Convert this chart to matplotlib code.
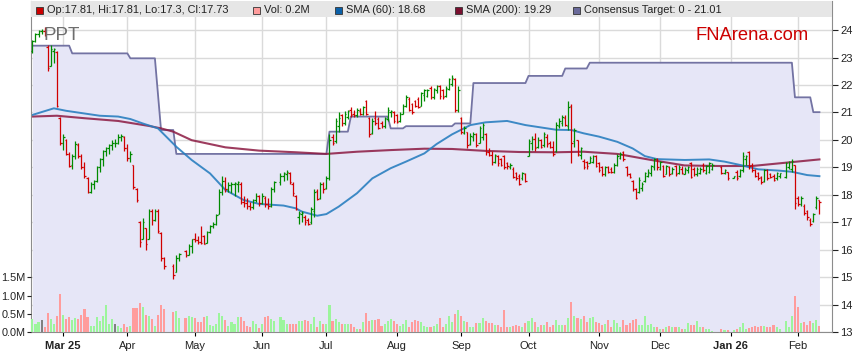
import numpy as np
import pandas as pd
import matplotlib
matplotlib.use('Agg')
import matplotlib.pyplot as plt
from matplotlib.collections import LineCollection
from matplotlib.patches import Rectangle

plt.rcParams['font.family'] = ['Liberation Sans', 'DejaVu Sans']

# weekday calendar, exchange holidays are left empty (None)
dates = pd.bdate_range('2025-02-17', '2026-02-11')
N = None

opens = [
    23.25, 23.60, 23.85, 23.95, 23.95, 23.40, 22.70, 23.25, 23.20, 20.80,
    19.90, 20.00, 19.50, 19.10, 19.40, 19.80, 19.40, 19.00, 18.60, 18.10,
    18.40, 18.50, 19.00, 19.30, 19.60, 19.70, 19.80, 19.90, 19.90, 20.10,
    20.10, 19.70, 19.35, 19.10, 18.20, 17.00, 16.40, 16.80, 16.40, 17.40,
    17.10, 17.40, 16.60, 15.70, N, N, 15.40, 15.20, 15.70, N,
    15.95, 15.80, 16.15, 16.40, 16.35, 16.30, 16.50, 16.25, 16.65, 16.85,
    16.95, 17.30, 18.10, 18.50, 18.20, 18.35, 18.40, 18.40, 18.40, 17.75,
    17.70, 17.60, 17.55, 17.80, 17.95, 17.70, 17.90, 17.65, 17.60, 18.20,
    N, 18.45, 18.70, 18.75, 18.80, 18.40, 17.95, 17.20, 17.30, 17.20,
    17.10, 17.00, 17.40, 18.15, 17.90, 18.40, 18.25, 18.60, 20.10, 19.95,
    20.50, 20.90, 20.60, 20.85, 21.10, 20.95, 20.90, 21.05, 20.95, 21.40,
    20.80, 20.25, 20.80, 20.75, 20.60, 20.50, 20.75, 21.00, 21.00, 20.90,
    20.70, 20.95, 21.25, 21.50, 21.30, 21.40, 21.50, 21.25, 21.65, 21.60,
    21.90, 21.55, 21.80, 21.95, 21.80, 21.60, 21.85, 22.05, 22.20, 21.10,
    20.80, 20.25, 20.30, 19.85, 20.10, 20.20, 19.90, 20.10, 20.20, 19.55,
    19.45, 19.20, 19.40, 19.30, 19.40, 19.15, 19.00, 18.95, 18.80, 18.70,
    18.60, 18.75, 19.40, 19.90, 20.05, 19.75, 20.00, 19.80, 20.10, 19.90,
    19.75, 19.60, 20.50, 20.60, 20.80, 20.50, 21.25, 19.95, 20.00, 19.45,
    19.25, 19.20, 19.15, 19.20, 19.40, 19.15, 19.00, 18.75, 19.00, 18.95,
    18.85, 19.10, 19.35, 19.55, 19.00, 18.75, 18.50, 18.20, 18.10, 18.25,
    18.50, 18.70, 18.80, 19.00, 19.30, 18.95, 19.05, 18.75, 19.00, 18.80,
    19.05, 18.80, 18.95, 18.75, 18.90, 19.15, 18.95, 18.75, 18.80, 19.10,
    18.80, 18.85, 18.95, N, N, 19.00, 18.80, 18.85, N, 18.62,
    18.85, 18.70, 18.90, 19.30, 19.55, 19.10, 18.90, 18.80, 18.65, 18.50,
    18.90, 18.75, 18.70, 18.60, 18.70, N, 18.65, 19.00, 18.95, 19.10,
    17.90, 17.65, 17.60, 17.40, 17.10, 17.05, 17.55, 17.81]

highs = [
    23.65, 23.90, 24.00, 24.05, 24.10, 23.45, 23.45, 23.35, 23.25, 20.85,
    20.20, 20.05, 19.55, 19.50, 19.95, 19.90, 19.50, 19.20, 18.65, 18.45,
    18.55, 19.05, 19.35, 19.65, 19.75, 19.85, 20.00, 20.05, 20.20, 20.20,
    20.15, 19.85, 19.60, 19.10, 18.25, 17.05, 17.15, 16.80, 17.50, 17.50,
    17.50, 17.50, 16.65, 15.75, N, N, 15.50, 15.80, 15.90, N,
    16.00, 16.20, 16.40, 16.60, 16.50, 16.85, 16.55, 16.70, 16.90, 17.00,
    17.30, 18.20, 18.70, 18.65, 18.45, 18.45, 18.45, 18.50, 18.45, 17.95,
    17.90, 17.75, 17.85, 18.05, 18.00, 18.05, 17.95, 17.90, 18.30, 18.50,
    N, 18.80, 18.85, 18.90, 18.85, 18.45, 18.00, 17.40, 17.40, 17.25,
    17.15, 17.55, 18.20, 18.20, 18.45, 18.45, 18.70, 20.20, 20.20, 20.80,
    21.00, 20.95, 21.05, 21.10, 21.20, 21.10, 21.15, 21.15, 21.25, 21.45,
    20.85, 20.80, 21.05, 20.85, 20.70, 20.85, 21.20, 21.10, 21.05, 20.95,
    21.00, 21.30, 21.65, 21.55, 21.35, 21.45, 21.55, 21.75, 21.85, 21.85,
    21.95, 21.90, 22.00, 22.00, 21.85, 21.95, 22.25, 22.35, 22.25, 21.95,
    20.85, 20.50, 20.30, 20.25, 20.30, 20.25, 20.50, 20.60, 20.25, 19.70,
    19.60, 19.50, 19.45, 19.35, 19.45, 19.20, 19.15, 19.00, 18.85, 18.75,
    18.85, 18.80, 20.05, 20.15, 20.25, 20.10, 20.05, 20.30, 20.20, 19.95,
    19.95, 20.65, 20.80, 20.90, 20.90, 21.40, 21.30, 20.45, 20.00, 19.75,
    19.30, 19.25, 19.40, 19.45, 19.45, 19.20, 19.05, 19.05, 19.05, 19.00,
    19.15, 19.50, 19.55, 19.60, 19.05, 18.80, 18.55, 18.25, 18.65, 18.45,
    18.85, 18.95, 19.10, 19.35, 19.35, 19.25, 19.10, 19.10, 19.05, 19.00,
    19.10, 19.10, 19.05, 19.00, 19.05, 19.20, 19.00, 19.00, 19.00, 19.15,
    19.10, 19.20, 19.15, N, N, 19.05, 18.95, 18.85, N, 18.70,
    18.90, 18.95, 19.55, 19.45, 19.60, 19.15, 18.95, 18.85, 18.70, 18.95,
    18.95, 18.80, 18.75, 18.85, 18.80, N, 19.20, 19.25, 19.30, 19.10,
    17.95, 17.95, 17.65, 17.45, 17.15, 17.35, 17.95, 17.81]

lows = [
    23.15, 23.55, 23.75, 23.85, 23.80, 22.50, 22.70, 22.80, 21.20, 19.80,
    19.65, 19.45, 19.00, 18.95, 19.30, 19.35, 18.95, 18.60, 18.05, 18.05,
    18.20, 18.45, 18.85, 19.05, 19.40, 19.50, 19.65, 19.75, 19.85, 19.95,
    19.60, 19.25, 19.20, 18.20, 17.75, 16.10, 16.40, 16.00, 16.40, 16.90,
    17.05, 16.60, 15.60, 15.30, N, N, 14.95, 15.20, 15.60, N,
    15.75, 15.80, 15.90, 16.30, 16.20, 16.20, 16.20, 16.25, 16.60, 16.80,
    16.90, 17.30, 18.00, 18.10, 18.10, 18.05, 17.95, 18.10, 17.65, 17.55,
    17.50, 17.45, 17.50, 17.75, 17.60, 17.65, 17.55, 17.50, 17.55, 18.10,
    N, 18.35, 18.50, 18.55, 18.40, 17.95, 17.45, 16.95, 17.00, 16.90,
    16.90, 16.95, 17.20, 17.80, 17.85, 18.05, 18.20, 18.55, 19.80, 19.90,
    20.30, 20.50, 20.55, 20.75, 20.85, 20.85, 20.85, 20.90, 20.90, 20.90,
    20.10, 20.20, 20.55, 20.40, 20.45, 20.45, 20.70, 20.85, 20.60, 20.60,
    20.65, 20.95, 21.20, 21.05, 20.95, 21.20, 21.15, 21.25, 21.40, 21.55,
    21.50, 21.50, 21.70, 21.50, 21.50, 21.55, 21.80, 21.95, 21.00, 21.00,
    20.20, 20.20, 19.70, 19.80, 19.95, 19.75, 19.90, 20.00, 19.45, 19.40,
    19.10, 19.15, 19.05, 19.05, 18.95, 18.95, 18.95, 18.60, 18.55, 18.35,
    18.55, 18.45, 19.40, 19.65, 19.60, 19.70, 19.70, 19.75, 19.75, 19.70,
    19.40, 19.55, 20.45, 20.50, 20.50, 20.35, 19.15, 19.75, 19.40, 19.30,
    18.95, 18.95, 19.15, 19.15, 19.00, 18.85, 18.70, 18.70, 18.80, 18.80,
    18.80, 19.05, 19.30, 19.25, 18.70, 18.60, 18.15, 17.85, 18.05, 18.15,
    18.45, 18.65, 18.70, 18.90, 18.90, 18.90, 18.65, 18.75, 18.70, 18.75,
    18.70, 18.75, 18.75, 18.75, 18.80, 18.60, 18.70, 18.70, 18.75, 18.85,
    18.75, 18.80, 18.90, N, N, 18.75, 18.75, 18.55, N, 18.60,
    18.55, 18.65, 18.85, 19.10, 18.95, 18.85, 18.65, 18.55, 18.40, 18.45,
    18.55, 18.60, 18.50, 18.55, 18.60, N, 18.60, 18.95, 18.85, 17.50,
    17.60, 17.60, 17.25, 17.10, 16.85, 17.00, 17.50, 17.30]

closes = [
    23.60, 23.85, 23.95, 23.95, 23.85, 22.60, 23.30, 23.32, 21.25, 19.90,
    20.10, 19.50, 19.05, 19.40, 19.85, 19.40, 19.00, 18.70, 18.10, 18.40,
    18.50, 19.00, 19.30, 19.60, 19.70, 19.80, 19.90, 19.90, 20.10, 20.15,
    19.70, 19.35, 19.50, 18.30, 17.80, 16.30, 17.00, 16.20, 17.40, 17.10,
    17.40, 16.70, 15.70, 15.40, N, N, 15.10, 15.70, 15.85, N,
    15.80, 16.15, 16.40, 16.35, 16.30, 16.25, 16.22, 16.65, 16.85, 16.95,
    17.25, 18.10, 18.50, 18.20, 18.35, 18.40, 18.42, 18.45, 17.75, 17.70,
    17.60, 17.55, 17.80, 17.95, 17.70, 17.95, 17.65, 17.60, 18.20, 18.45,
    N, 18.70, 18.80, 18.82, 18.45, 18.05, 17.50, 17.35, 17.35, 17.00,
    16.95, 17.50, 18.10, 17.85, 18.40, 18.20, 18.60, 20.00, 19.90, 20.70,
    20.80, 20.60, 20.95, 21.05, 20.90, 20.90, 21.10, 20.95, 21.20, 20.95,
    20.20, 20.70, 20.60, 20.45, 20.50, 20.80, 21.10, 21.05, 20.70, 20.65,
    20.95, 21.25, 21.55, 21.10, 21.00, 21.25, 21.20, 21.70, 21.80, 21.80,
    21.55, 21.85, 21.95, 21.60, 21.55, 21.90, 22.20, 22.25, 21.10, 21.80,
    20.30, 20.45, 19.80, 20.15, 20.20, 19.80, 20.45, 20.55, 19.55, 19.45,
    19.20, 19.45, 19.15, 19.10, 19.00, 19.05, 19.10, 18.65, 18.60, 18.40,
    18.80, 18.50, 19.95, 20.05, 19.70, 20.00, 19.75, 20.20, 19.85, 19.75,
    19.50, 20.55, 20.70, 20.85, 20.55, 21.20, 19.90, 20.35, 19.50, 19.70,
    19.00, 19.05, 19.35, 19.40, 19.05, 18.90, 18.75, 19.00, 18.85, 18.85,
    19.10, 19.40, 19.50, 19.30, 18.75, 18.65, 18.20, 17.90, 18.55, 18.40,
    18.80, 18.85, 19.05, 19.30, 19.00, 19.20, 18.70, 19.05, 18.75, 18.95,
    18.75, 19.00, 18.80, 18.95, 19.00, 18.65, 18.75, 18.95, 18.95, 18.90,
    19.05, 19.15, 19.10, N, N, 18.80, 18.90, 18.60, N, 18.68,
    18.60, 18.90, 19.40, 19.40, 19.05, 18.90, 18.70, 18.60, 18.45, 18.90,
    18.60, 18.65, 18.55, 18.80, 18.78, N, 19.15, 19.20, 19.25, 17.70,
    17.65, 17.90, 17.35, 17.20, 16.95, 17.30, 17.90, 17.73]

# volume in millions of shares
volume = [
    0.36, 0.21, 0.27, 0.32, 0.15, 0.52, 0.35, 0.21, 0.45, 1.03,
    0.48, 0.35, 0.41, 0.32, 0.39, 0.37, 0.48, 0.62, 0.41, 0.18,
    0.18, 0.41, 0.30, 0.45, 0.73, 0.21, 0.37, 0.23, 0.17, 0.12,
    0.21, 0.15, 0.18, 0.67, 0.65, 0.79, 0.70, 0.48, 0.45, 0.35,
    0.18, 0.48, 0.75, 0.62, N, N, 0.56, 0.59, 0.39, N,
    0.39, 0.45, 0.42, 0.39, 0.27, 0.27, 0.42, 0.45, 0.20, 0.18,
    0.22, 0.51, 0.45, 0.33, 0.18, 0.27, 0.22, 0.42, 0.42, 0.30,
    0.18, 0.15, 0.30, 0.23, 0.12, 0.23, 0.42, 0.45, 0.37, 0.30,
    N, 0.42, 0.33, 0.23, 0.23, 0.23, 0.23, 0.30, 0.30, 0.33,
    0.30, 0.23, 0.42, 0.15, 0.30, 0.23, 0.23, 0.75, 0.30, 0.37,
    0.27, 0.23, 0.23, 0.22, 0.22, 0.13, 0.10, 0.10, 0.27, 0.51,
    0.30, 0.33, 0.33, 0.37, 0.18, 0.22, 0.30, 0.35, 0.30, 0.23,
    0.18, 0.22, 0.33, 0.15, 0.27, 0.33, 0.30, 0.27, 0.18, 0.15,
    0.13, 0.18, 0.23, 0.40, 0.13, 0.22, 0.44, 0.28, 0.50, 0.60,
    0.45, 0.30, 0.28, 0.15, 0.15, 0.25, 0.25, 0.38, 0.30, 0.25,
    0.25, 0.20, 0.20, 0.14, 0.60, 0.13, 0.13, 0.18, 0.20, 0.18,
    0.13, 0.25, 0.30, 0.38, 0.28, 0.13, 0.20, 0.20, 0.28, 0.15,
    0.20, 0.33, 0.20, 0.20, 0.20, 0.40, 0.82, 0.45, 0.40, 0.35,
    0.45, 0.28, 0.40, 0.42, 0.28, 0.25, 0.20, 0.22, 0.33, 0.15,
    0.33, 0.25, 0.15, 0.32, 0.20, 0.25, 0.33, 0.35, 0.20, 0.20,
    0.45, 0.20, 0.22, 0.15, 0.13, 0.08, 0.10, 0.15, 0.18, 0.15,
    0.13, 0.13, 0.08, 0.10, 0.25, 0.20, 0.20, 0.30, 0.15, 0.13,
    0.08, 0.08, 0.03, N, N, 0.08, 0.07, 0.05, N, 0.05,
    0.08, 0.15, 0.25, 0.10, 0.12, 0.15, 0.18, 0.13, 0.18, 0.18,
    0.13, 0.15, 0.20, 0.15, 0.10, N, 0.30, 0.15, 0.45, 1.00,
    0.68, 0.25, 0.28, 0.20, 0.30, 0.25, 0.33, 0.18]

# moving averages (day number, value)
sma60_day = [0, 7, 11, 22, 28, 32, 36, 41, 47, 52, 58, 63, 69, 74, 82, 86, 88, 93, 96, 100,
             106, 111, 117, 122, 128, 132, 137, 143, 148, 155, 161, 171, 176, 180, 185,
             191, 196, 200, 204, 213, 221, 226, 231, 237, 244, 248, 253, 257]
sma60_val = [20.91, 21.15, 21.06, 20.88, 20.85, 20.76, 20.60, 20.42, 19.75, 19.27, 18.78,
             18.18, 17.81, 17.67, 17.61, 17.51, 17.39, 17.24, 17.30, 17.57, 18.06, 18.60,
             18.97, 19.21, 19.51, 19.85, 20.20, 20.54, 20.64, 20.69, 20.54, 20.37, 20.36,
             20.24, 20.12, 19.93, 19.69, 19.41, 19.30, 19.27, 19.29, 19.21, 19.09, 18.93,
             18.88, 18.84, 18.72, 18.68]
sma200_day = [0, 8, 17, 28, 38, 42, 46, 52, 63, 74, 86, 96, 106, 117, 128, 137, 148, 159,
              171, 180, 191, 202, 213, 224, 235, 246, 257]
sma200_val = [20.85, 20.88, 20.79, 20.69, 20.51, 20.42, 20.30, 19.99, 19.73, 19.61, 19.55,
              19.49, 19.57, 19.63, 19.68, 19.67, 19.60, 19.56, 19.55, 19.57, 19.49, 19.27,
              19.07, 19.05, 19.05, 19.17, 19.29]

# consensus target: day it changes, new value
target_start = [0, 13, 32, 41, 42, 47, 97, 104, 117, 122, 138, 144, 162, 174, 182, 249, 255]
target_value = [23.43, 23.15, 22.97, 21.65, 20.36, 19.49, 20.30, 20.85, 20.42, 20.50, 20.60,
                22.07, 22.33, 22.60, 22.81, 21.55, 21.01]

month_labels = ['Mar 25', 'Apr', 'May', 'Jun', 'Jul', 'Aug', 'Sep', 'Oct', 'Nov', 'Dec',
                'Jan 26', 'Feb']

o = np.array(opens, dtype=float)
h = np.array(highs, dtype=float)
l = np.array(lows, dtype=float)
c = np.array(closes, dtype=float)
v = np.array(volume, dtype=float)
x = np.arange(len(dates))

GREEN, RED = '#008a00', '#d00000'
VGREEN, VRED, VGRAY = '#9cf59c', '#ff9c9c', '#808080'

fig = plt.figure(figsize=(8.59, 3.63), dpi=100)
ax = fig.add_axes([31 / 859, 30.8 / 363, 801 / 859, 331.2 / 363])
axv = ax.twinx()   # volume scale (left side)

ax.set_xlim(-0.46, 261.1)
ax.set_ylim(13, 13 + 331.2 / 27.47)

# consensus target band
tgt = np.repeat(target_value, np.diff(target_start + [len(x)]))
ax.fill_between(x, 13, tgt, color='#e6e6f7', lw=0, zorder=1)
ax.plot(x, tgt, color='#7373a3', lw=1.3, zorder=2)

# moving averages
ax.plot(sma200_day, sma200_val, color='#8c1a42', lw=1.5, alpha=0.85, zorder=2)
ax.plot(sma60_day, sma60_val, color='#2a7fc0', lw=1.4, alpha=0.9, zorder=2)

# OHLC bars
segs, cols = [], []
for i in x:
    if np.isnan(c[i]):
        continue
    col = GREEN if c[i] >= o[i] else RED
    segs += [[(i, l[i]), (i, h[i])], [(i - 0.5, o[i]), (i, o[i])], [(i, c[i]), (i + 0.5, c[i])]]
    cols += [col] * 3
ax.add_collection(LineCollection(segs, colors=cols, linewidths=0.9, zorder=3))

# header strip with legend
ax.add_patch(Rectangle((0, 315.2 / 331.2), 1, 1, transform=ax.transAxes,
                       facecolor='#e6e6e6', edgecolor='none', zorder=4, clip_on=True))
legend = [(36, '#cc0000', 'Op:17.81, Hi:17.81, Lo:17.3, Cl:17.73'),
          (253, '#ff9c9c', 'Vol: 0.2M'),
          (335, '#0b60a8', 'SMA (60): 18.68'),
          (455, '#7a1030', 'SMA (200): 19.29'),
          (573, '#6a6a9a', 'Consensus Target: 0 - 21.01')]
for px, col, txt in legend:
    fig.patches.append(Rectangle((px / 859, 1 - 13.5 / 363), 7 / 859, 7 / 363,
                                 transform=fig.transFigure, facecolor=col,
                                 edgecolor='#333333', lw=0.6))
    fig.text((px + 11) / 859, 1 - 10 / 363, txt, fontsize=7.9, color='#222222', va='center')

ax.text(0.015, 0.895, 'PPT', transform=ax.transAxes, fontsize=13.5, color='#6e6e6e',
        va='center', zorder=5)
ax.text(0.829, 0.895, 'FNArena.com', transform=ax.transAxes, fontsize=13.2, color='#cc0000',
        va='center', zorder=5)

# axes styling
month_pos = [i for i in range(1, len(dates)) if dates[i].month != dates[i - 1].month]
ax.set_xticks(month_pos)
ax.set_xticklabels(month_labels, fontsize=8, color='#222222')
for lab in ax.get_xticklabels():
    if lab.get_text() in ('Mar 25', 'Jan 26'):
        lab.set_fontweight('bold')
ax.set_yticks(range(13, 25))
ax.yaxis.tick_right()
ax.tick_params(axis='y', labelsize=8, colors='#222222', length=4, width=0.8, pad=2)
ax.tick_params(axis='x', length=3, width=0.8, pad=3)
ax.set_axisbelow(True)
ax.grid(True, color='#dadada', lw=1)
for s in ('left', 'bottom', 'right'):
    ax.spines[s].set_color('#8c8c8c')
ax.spines['top'].set_visible(False)

# volume bars
axv.set_ylim(0, 331.2 / 36.7)
vcols = [VGREEN if c[i] > o[i] else VRED if c[i] < o[i] else VGRAY for i in x]
axv.bar(x, v, width=0.68, color=vcols, zorder=3)
axv.yaxis.tick_left()
axv.set_yticks([0, 0.5, 1.0, 1.5])
axv.set_yticklabels(['0.0M', '0.5M', '1.0M', '1.5M'])
axv.tick_params(axis='y', labelsize=7.8, colors='#222222', length=3, width=0.8, pad=1)
for s in axv.spines.values():
    s.set_visible(False)

fig.savefig('out.png', dpi=100)
